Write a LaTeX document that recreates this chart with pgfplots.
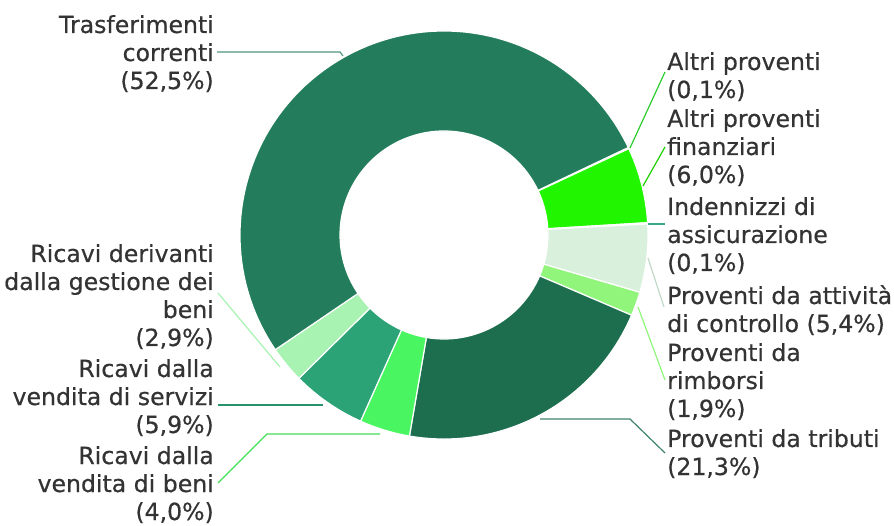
\documentclass[border=0pt]{standalone}
\usepackage{fontspec}
\setmainfont{DejaVu Sans}[FakeBold=0.5]
\usepackage{pgfplots}
\pgfplotsset{compat=1.18}
\definecolor{cTras}{HTML}{237D5C}
\definecolor{cAltri}{HTML}{2CCC2C}
\definecolor{cFin}{HTML}{22F500}
\definecolor{cInd}{HTML}{38A888}
\definecolor{cCon}{HTML}{D8F0DC}
\definecolor{cRim}{HTML}{90F57A}
\definecolor{cTri}{HTML}{1D6E4E}
\definecolor{cBen}{HTML}{4AF562}
\definecolor{cSer}{HTML}{2CA376}
\definecolor{cGes}{HTML}{A8F2B2}
\definecolor{txt}{HTML}{333333}
% donut geometry (axis units = pt)
\def\cx{444}\def\cy{290}\def\Ro{204}\def\Ri{104}
\def\startang{25.4}
\def\total{100.1}
\newcommand\slice[2]{% percentage, colour
  \pgfmathsetmacro\A{\startang}%
  \pgfmathsetmacro\B{\startang-#1*(360/\total)}%
  \xdef\startang{\B}%
  \edef\temp{\noexpand\fill[#2,draw=white,line width=1.2pt]
    (axis cs:{\cx+\Ro*cos(\A)},{\cy+\Ro*sin(\A)})
    arc[start angle=\A,end angle=\B,radius=\Ro pt]
    -- (axis cs:{\cx+\Ri*cos(\B)},{\cy+\Ri*sin(\B)})
    arc[start angle=\B,end angle=\A,radius=\Ri pt] -- cycle;}%
  \temp}
\newcommand\labR[3]{\node[anchor=base west,inner sep=0pt,text=txt] at (axis cs:#1,#2) {#3};}
\newcommand\labL[3]{\node[anchor=base east,inner sep=0pt,text=txt] at (axis cs:#1,#2) {#3};}
\begin{document}
\fontsize{23.6}{28}\selectfont
\begin{tikzpicture}
\begin{axis}[x=1pt,y=1pt,xmin=0,xmax=894,ymin=0,ymax=525,hide axis,clip=false]
\path[draw=none] (axis cs:0,0) rectangle (axis cs:894,525);
% slices, clockwise (values in %)
\slice{0.1}{cAltri}
\slice{6.0}{cFin}
\slice{0.1}{cInd}
\slice{5.4}{cCon}
\slice{1.9}{cRim}
\slice{21.3}{cTri}
\slice{4.0}{cBen}
\slice{5.9}{cSer}
\slice{2.9}{cGes}
\slice{52.5}{cTras}
% leader lines (image y flipped: 525-y)
\draw[cTras!80!white,line width=1.2pt] (axis cs:217,473) -- (axis cs:340,473) -- (axis cs:343,469);
\draw[cAltri,line width=1.2pt] (axis cs:630,377) -- (axis cs:665,453);
\draw[cFin!85!black,line width=1.2pt] (axis cs:643,339) -- (axis cs:665,378);
\draw[cInd,line width=1.2pt] (axis cs:648,301) -- (axis cs:665,301);
\draw[cCon!90!black,line width=1.2pt] (axis cs:648,267) -- (axis cs:664,218);
\draw[cRim,line width=1.2pt] (axis cs:638,218) -- (axis cs:665,145);
\draw[cTri!85!white,line width=1.2pt] (axis cs:540,106) -- (axis cs:630,106) -- (axis cs:665,72);
\draw[cGes,line width=1.2pt] (axis cs:218,232) -- (axis cs:280,158);
\draw[cSer!90!black,line width=1.2pt] (axis cs:218,120) -- (axis cs:323,120);
\draw[cBen!90!black,line width=1.2pt] (axis cs:380,91) -- (axis cs:267,91) -- (axis cs:218,42);
% labels right
\labR{667}{455}{Altri proventi}
\labR{667}{427}{(0,1\%)}
\labR{667}{398}{Altri proventi}
\labR{667}{370}{finanziari}
\labR{667}{342}{(6,0\%)}
\labR{667}{310}{Indennizzi di}
\labR{667}{282}{assicurazione}
\labR{667}{254}{(0,1\%)}
\labR{667}{221}{Proventi da attività}
\labR{667}{193}{di controllo (5,4\%)}
\labR{667}{164}{Proventi da}
\labR{667}{136}{rimborsi}
\labR{667}{108}{(1,9\%)}
\labR{667}{78}{Proventi da tributi}
\labR{667}{50}{(21,3\%)}
% labels left
\labL{214}{492}{Trasferimenti}
\labL{214}{464}{correnti}
\labL{214}{436}{(52,5\%)}
\labL{214}{263}{Ricavi derivanti}
\labL{214}{235}{dalla gestione dei}
\labL{214}{207}{beni}
\labL{214}{179}{(2,9\%)}
\labL{214}{148}{Ricavi dalla}
\labL{214}{120}{vendita di servizi}
\labL{214}{92}{(5,9\%)}
\labL{214}{61}{Ricavi dalla}
\labL{214}{33}{vendita di beni}
\labL{214}{5}{(4,0\%)}
\end{axis}
\end{tikzpicture}
\end{document}
